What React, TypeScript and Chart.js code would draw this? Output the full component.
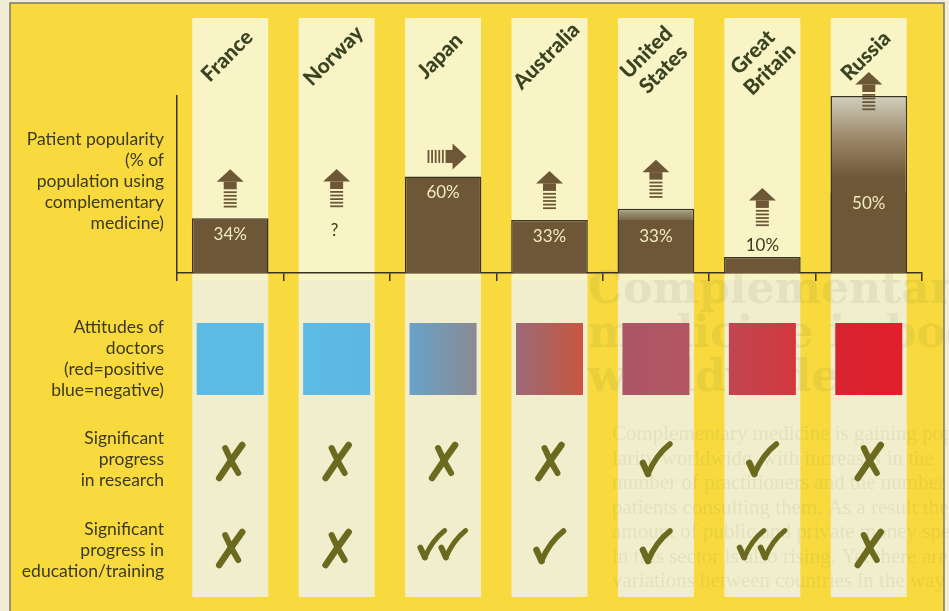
import React, { useEffect, useRef } from "react";
import { Chart, registerables } from "chart.js";
Chart.register(...registerables);

// ---------- data ----------
const countries: string[][] = [["France"], ["Norway"], ["Japan"], ["Australia"], ["United", "States"], ["Great", "Britain"], ["Russia"]];
const popularity: (number | null)[] = [34, null, 60, 33, 33, 10, 50];
const popularityLabels = ["34%", "?", "60%", "33%", "33%", "10%", "50%"];
const upperEstimate = [0, 0, 0, 0, 7, 0, 60];
const trend = ["up", "up", "right", "up", "up", "up", "up"];
const attitudeLeft = ["#5cbbe5", "#5cbbe5", "#68a3c9", "#9a6b78", "#ac5667", "#c04652", "#d82331"];
const attitudeRight = ["#5cbbe5", "#5db6e1", "#8a8a92", "#c9553f", "#b45562", "#d2383d", "#e01f29"];
const research = ["no", "no", "no", "no", "yes", "yes", "no"];
const education = ["no", "no", "yes2", "yes", "yes", "yes2", "no"];
const rowLabels: string[][] = [
  ["Patient popularity", "(% of", "population using", "complementary", "medicine)"],
  ["Attitudes of", "doctors", "(red=positive", "blue=negative)"],
  ["Significant", "progress", "in research"],
  ["Significant", "progress in", "education/training"],
];
const bgHeading = ["Complementary", "medicine is booming", "worldwide"];
const bgBody = [
  "Complementary medicine is gaining popu-",
  "larity worldwide, with increases in the",
  "number of practitioners and the number of",
  "patients consulting them. As a result the",
  "amount of public and private money spent",
  "in this sector is also rising. Yet there are wide",
  "variations between countries in the way it is",
];

// ---------- styles ----------
const YELLOW = "#f8da3e";
const STRIPE_TOP = "#f8f4c6";
const STRIPE_LOW = "#f0eecc";
const BROWN = "#6d5737";
const BORDER = "#3a3220";
const TEXT = "#3b3a1f";
const LABEL = "#3a4322";
const OLIVE = "#6b6a1f";
const CREAM = "#f3ebbd";

function upArrow(ctx: CanvasRenderingContext2D, cx: number, top: number) {
  const hw = 13.5, hh = 12.5, sw = 6.5;
  ctx.fillStyle = BROWN;
  ctx.beginPath();
  ctx.moveTo(cx, top);
  ctx.lineTo(cx + hw, top + hh);
  ctx.lineTo(cx - hw, top + hh);
  ctx.closePath();
  ctx.fill();
  ctx.fillRect(cx - sw, top + hh, sw * 2, 7.5);
  for (let k = 0; k < 5; k++) ctx.fillRect(cx - sw, top + hh + 9.5 + k * 3.6, sw * 2, 1.8);
}

function rightArrow(ctx: CanvasRenderingContext2D, cx: number, cy: number) {
  const x0 = cx - 17.5;
  const sh = 6.5, hh = 13;
  ctx.fillStyle = BROWN;
  for (let k = 0; k < 5; k++) ctx.fillRect(x0 + k * 3.6, cy - sh, 1.8, sh * 2);
  ctx.fillRect(x0 + 18, cy - sh, 8, sh * 2);
  ctx.beginPath();
  ctx.moveTo(x0 + 25, cy - hh);
  ctx.lineTo(x0 + 39, cy);
  ctx.lineTo(x0 + 25, cy + hh);
  ctx.closePath();
  ctx.fill();
}

function cross(ctx: CanvasRenderingContext2D, cx: number, cy: number) {
  ctx.strokeStyle = OLIVE;
  ctx.lineCap = "round";
  ctx.lineWidth = 6.5;
  ctx.beginPath();
  ctx.moveTo(cx - 11, cy + 17);
  ctx.quadraticCurveTo(cx + 1, cy - 1, cx + 12, cy - 16);
  ctx.stroke();
  ctx.lineWidth = 6;
  ctx.beginPath();
  ctx.moveTo(cx - 5, cy - 13);
  ctx.quadraticCurveTo(cx + 1, cy + 1, cx + 8, cy + 12);
  ctx.stroke();
}

function check(ctx: CanvasRenderingContext2D, cx: number, cy: number, s: number) {
  ctx.strokeStyle = OLIVE;
  ctx.lineCap = "round";
  ctx.lineJoin = "round";
  ctx.lineWidth = 6.5 * s;
  ctx.beginPath();
  ctx.moveTo(cx - 13 * s, cy + 4 * s);
  ctx.lineTo(cx - 8 * s, cy + 15 * s);
  ctx.stroke();
  ctx.lineWidth = 5.5 * s;
  ctx.beginPath();
  ctx.moveTo(cx - 8 * s, cy + 15 * s);
  ctx.quadraticCurveTo(cx + 0 * s, cy - 4 * s, cx + 14 * s, cy - 15 * s);
  ctx.stroke();
}

function mark(ctx: CanvasRenderingContext2D, kind: string, cx: number, cy: number) {
  if (kind === "no") cross(ctx, cx, cy);
  else if (kind === "yes") check(ctx, cx, cy - 2, 1);
  else {
    check(ctx, cx - 11, cy - 4, 0.9);
    check(ctx, cx + 10, cy - 4, 0.9);
  }
}

const infographic = {
  id: "infographic",
  beforeDraw(chart: any) {
    const { ctx, scales } = chart;
    const xs = scales.x;
    ctx.save();
    ctx.fillStyle = "#f2eed6";
    ctx.fillRect(0, 0, chart.width, chart.height);
    ctx.fillStyle = YELLOW;
    ctx.fillRect(10, 3, 934, chart.height - 3);
    countries.forEach((_, i) => {
      const cx = xs.getPixelForValue(i);
      ctx.fillStyle = STRIPE_TOP;
      ctx.fillRect(cx - 38, 18, 76, 262);
      ctx.fillStyle = STRIPE_LOW;
      ctx.fillRect(cx - 38, 280, 76, 317);
    });
    // faint show-through text
    ctx.fillStyle = "rgba(80,90,50,0.08)";
    ctx.textBaseline = "alphabetic";
    ctx.textAlign = "left";
    ctx.font = "bold 44px 'DejaVu Serif'";
    bgHeading.forEach((t, k) => ctx.fillText(t, 588, 303 + k * 44));
    ctx.font = "21px 'Liberation Serif'";
    bgBody.forEach((t, k) => ctx.fillText(t, 612, 440 + k * 24.5));
    // frame
    ctx.strokeStyle = "#7a7a70";
    ctx.lineWidth = 1.5;
    ctx.beginPath();
    ctx.moveTo(10, chart.height);
    ctx.lineTo(10, 3);
    ctx.lineTo(944, 3);
    ctx.lineTo(944, chart.height);
    ctx.stroke();
    ctx.restore();
  },
  afterDatasetsDraw(chart: any) {
    const { ctx, scales, chartArea } = chart;
    const xs = scales.x, ys = scales.y;
    const base = chartArea.bottom;
    ctx.save();
    // category labels
    ctx.fillStyle = LABEL;
    ctx.font = "900 21px Lato";
    ctx.textAlign = "center";
    ctx.textBaseline = "middle";
    countries.forEach((lines, i) => {
      const cx = xs.getPixelForValue(i);
      const two = lines.length > 1;
      ctx.save();
      ctx.translate(cx - (two ? 1 : 3), two ? 61 : 56);
      ctx.rotate(-Math.PI / 4);
      lines.forEach((t, k) => ctx.fillText(t, 0, (k - (lines.length - 1) / 2) * 24));
      ctx.restore();
    });
    // arrows and bar labels
    countries.forEach((_, i) => {
      const cx = xs.getPixelForValue(i);
      const v = popularity[i];
      const solidTop = v == null ? base - 55 : ys.getPixelForValue(v);
      const fullTop = v == null ? solidTop : ys.getPixelForValue(v + upperEstimate[i]);
      const small = v != null && base - solidTop < 25;
      ctx.font = "17px Lato";
      ctx.textAlign = "center";
      ctx.textBaseline = "middle";
      let labelTop = fullTop;
      if (v == null) {
        ctx.fillStyle = TEXT;
        ctx.fillText(popularityLabels[i], cx - 2, solidTop + 13);
      } else if (small) {
        ctx.fillStyle = TEXT;
        ctx.fillText(popularityLabels[i], cx, solidTop - 11);
        labelTop = solidTop - 20;
      } else {
        ctx.fillStyle = CREAM;
        const off = upperEstimate[i] > 30 ? 11 : 16.5;
        ctx.fillText(popularityLabels[i], cx, solidTop + off);
      }
      if (trend[i] === "right") {
        rightArrow(ctx, cx + 2, fullTop - 20);
      } else {
        let top = labelTop - 10.5 - 38.5;
        if (top < 60) top = fullTop - 24;
        upArrow(ctx, cx, top);
      }
    });
    // row labels
    ctx.fillStyle = TEXT;
    ctx.font = "17.5px Lato";
    ctx.textAlign = "right";
    ctx.textBaseline = "middle";
    const rowStarts = [139, 327, 438, 529];
    rowLabels.forEach((lines, r) => {
      lines.forEach((t, k) => ctx.fillText(t, 164, rowStarts[r] + k * 21.2));
    });
    // attitude squares and marks
    countries.forEach((_, i) => {
      const cx = xs.getPixelForValue(i);
      const g = ctx.createLinearGradient(cx - 33.5, 0, cx + 33.5, 0);
      g.addColorStop(0, attitudeLeft[i]);
      g.addColorStop(1, attitudeRight[i]);
      ctx.fillStyle = g;
      ctx.fillRect(cx - 33.5, 323, 67, 72);
      mark(ctx, research[i], cx, 461);
      mark(ctx, education[i], cx, 548);
    });
    ctx.restore();
  },
};

export default function App() {
  const ref = useRef<HTMLCanvasElement>(null);
  useEffect(() => {
    const solidData = popularity.map((v) => (v == null ? null : v));
    const totalData = popularity.map((v, i) => (v != null && upperEstimate[i] > 0 ? v + upperEstimate[i] : null));
    const chart = new Chart(ref.current as HTMLCanvasElement, {
      type: "bar",
      data: {
        labels: countries.map((c) => c.join(" ")),
        datasets: [
          {
            label: "Patient popularity",
            data: solidData,
            order: 1,
            backgroundColor: BROWN,
            borderColor: BORDER,
            borderWidth: (c: any) => ({ left: 1.5, right: 1.5, top: upperEstimate[c.dataIndex] > 0 ? 0 : 1.5, bottom: 0 }),
            borderSkipped: false,
          },
          {
            label: "Upper estimate",
            data: totalData,
            order: 2,
            backgroundColor: (c: any) => {
              if (c.type !== "data") return BROWN;
              const ch = c.chart;
              const ys = ch.scales.y;
              if (!ch.chartArea || !ys) return BROWN;
              const i = c.dataIndex;
              const b = popularity[i] ?? 0;
              const ex = upperEstimate[i];
              const yTop = ys.getPixelForValue(b + ex);
              const yBot = ys.getPixelForValue(b);
              const g = ch.ctx.createLinearGradient(0, yTop, 0, yBot);
              if (ex > 30) {
                g.addColorStop(0, "#cfd0bd");
                g.addColorStop(0.45, "#9b8567");
                g.addColorStop(0.85, BROWN);
                g.addColorStop(1, BROWN);
              } else {
                g.addColorStop(0, "#a9a88e");
                g.addColorStop(1, "#7b6947");
              }
              return g;
            },
            borderColor: BORDER,
            borderWidth: { left: 1.5, right: 1.5, top: 1.5, bottom: 0 },
            borderSkipped: false,
          },
        ],
      },
      options: {
        responsive: false,
        animation: false,
        events: [],
        datasets: { bar: { grouped: false, barPercentage: 0.72, categoryPercentage: 1 } },
        layout: { padding: { left: 177, top: 96, right: 27, bottom: 330 } },
        plugins: { legend: { display: false }, tooltip: { enabled: false } },
        scales: {
          x: {
            offset: true,
            ticks: { display: false },
            grid: { display: true, offset: true, drawOnChartArea: false, drawTicks: true, tickLength: 8, color: BORDER, lineWidth: 1.5 },
            border: { display: true, color: BORDER, width: 1.5 },
          },
          y: {
            min: 0,
            max: 110,
            ticks: { display: false },
            grid: { display: false, drawTicks: false },
            border: { display: true, color: BORDER, width: 1.5 },
          },
        },
      },
      plugins: [infographic],
    } as any);
    return () => chart.destroy();
  }, []);
  return (
    <div style={{ position: "fixed", left: 0, top: 0, width: 949, height: 611 }}>
      <canvas ref={ref} width={949} height={611} style={{ display: "block" }} />
    </div>
  );
}
